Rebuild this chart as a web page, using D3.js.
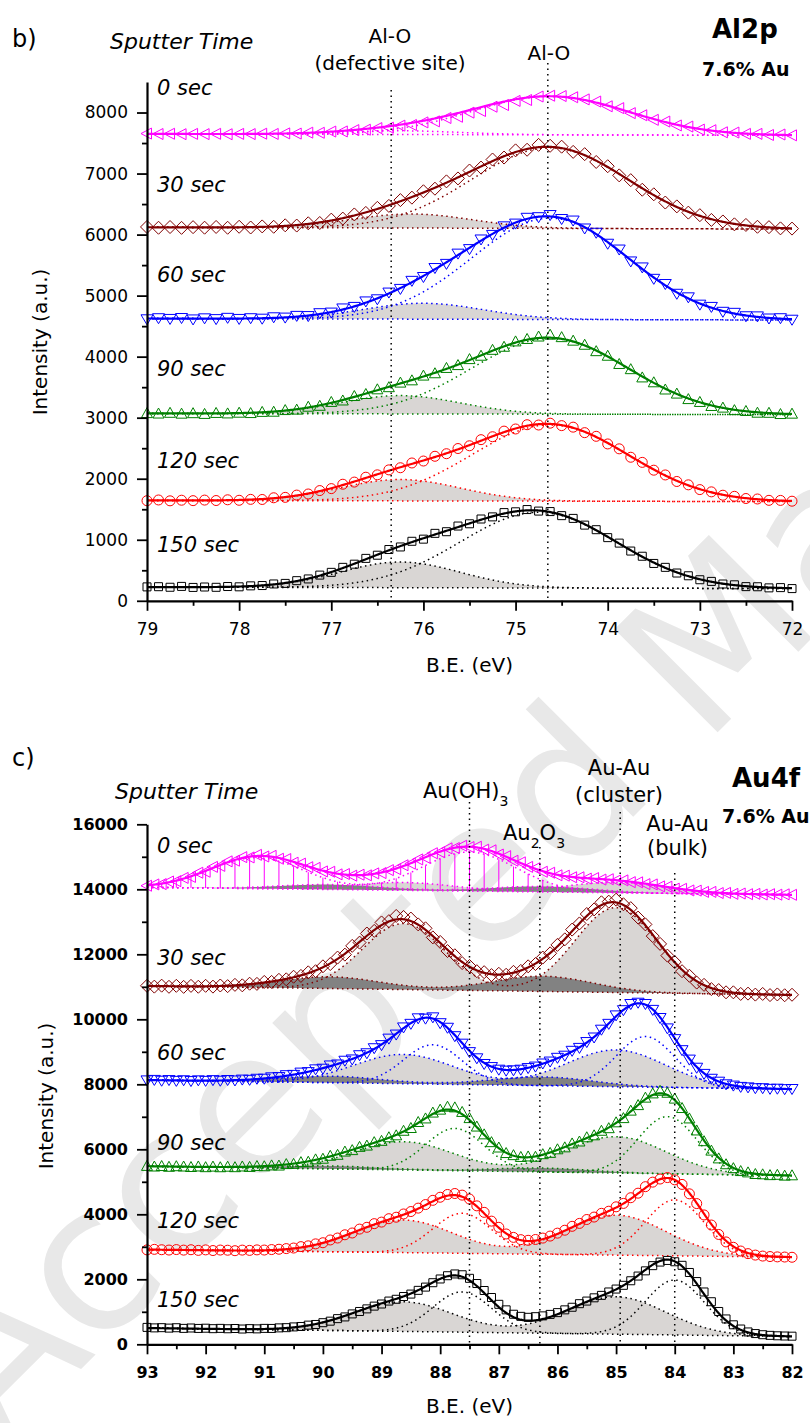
<!DOCTYPE html>
<html>
<head>
<meta charset="utf-8">
<script src="https://cdn.jsdelivr.net/npm/d3@7"></script>
<style>
body { margin: 0; background: #fff; }
svg text { font-family: "DejaVu Sans", sans-serif; }
</style>
</head>
<body>
<svg id="fig" width="810" height="1423"></svg>
<script>
// sputter series, shared by both panels
const sampleNames = ["0 sec", "30 sec", "60 sec", "90 sec", "120 sec", "150 sec"];
const sampleColors = ["#ff00ff", "#800000", "#0000ff", "#008000", "#ff0000", "#000000"];
const sampleMarkers = ["left", "diamond", "down", "up", "circle", "square"];

// ---- Al2p, measured counts from 79 eV down in 0.125 eV steps ----
const al2pStart = 79, al2pStep = 0.125;
const al2p0 = [7655, 7648, 7652, 7645, 7650, 7646, 7651, 7644, 7650, 7647, 7653, 7649, 7658, 7655, 7670, 7668, 7688, 7690, 7712, 7718, 7745, 7752, 7785, 7796, 7838, 7855, 7910, 7930, 7998, 8025, 8095, 8122, 8190, 8205, 8262, 8275, 8270, 8250, 8215, 8180, 8102, 8072, 7990, 7955, 7880, 7852, 7788, 7770, 7720, 7710, 7676, 7672, 7650, 7650, 7632, 7640, 7626];
const al2p30 = [6125, 6112, 6124, 6110, 6122, 6113, 6125, 6112, 6128, 6116, 6134, 6128, 6152, 6148, 6185, 6190, 6245, 6262, 6330, 6355, 6438, 6470, 6565, 6605, 6710, 6752, 6872, 6920, 7050, 7098, 7230, 7262, 7380, 7390, 7470, 7455, 7440, 7355, 7318, 7190, 7120, 6970, 6892, 6735, 6660, 6525, 6462, 6360, 6318, 6240, 6215, 6168, 6158, 6128, 6122, 6102, 6098];
const al2p60 = [4612, 4630, 4618, 4633, 4610, 4628, 4615, 4636, 4618, 4630, 4622, 4645, 4640, 4668, 4665, 4712, 4722, 4790, 4815, 4905, 4940, 5050, 5110, 5242, 5305, 5452, 5520, 5688, 5762, 5920, 5995, 6135, 6180, 6275, 6285, 6320, 6255, 6230, 6100, 6030, 5850, 5755, 5560, 5462, 5275, 5190, 5030, 4972, 4852, 4815, 4735, 4718, 4662, 4660, 4625, 4630, 4605];
const al2p90 = [3075, 3068, 3080, 3066, 3074, 3062, 3078, 3070, 3082, 3076, 3095, 3098, 3125, 3132, 3180, 3195, 3258, 3282, 3355, 3388, 3465, 3500, 3575, 3612, 3690, 3728, 3815, 3862, 3960, 4015, 4112, 4162, 4250, 4290, 4330, 4360, 4320, 4262, 4195, 4090, 4015, 3880, 3795, 3660, 3580, 3462, 3395, 3305, 3258, 3192, 3165, 3124, 3110, 3082, 3080, 3060, 3066];
const al2p120 = [1640, 1652, 1638, 1648, 1641, 1650, 1643, 1655, 1647, 1662, 1660, 1688, 1695, 1732, 1750, 1806, 1838, 1910, 1945, 2025, 2064, 2145, 2180, 2258, 2290, 2368, 2410, 2495, 2540, 2640, 2688, 2780, 2815, 2885, 2880, 2910, 2870, 2845, 2755, 2695, 2570, 2490, 2352, 2268, 2140, 2062, 1955, 1900, 1822, 1785, 1730, 1712, 1676, 1668, 1646, 1645, 1632];
const al2p150 = [228, 231, 222, 236, 219, 226, 221, 234, 229, 245, 250, 276, 285, 330, 358, 421, 466, 548, 600, 695, 747, 840, 882, 975, 1010, 1105, 1132, 1225, 1262, 1340, 1375, 1445, 1458, 1495, 1470, 1462, 1395, 1350, 1240, 1165, 1035, 945, 815, 730, 612, 548, 455, 410, 345, 318, 275, 262, 232, 230, 212, 216, 200];
// fit: baseline at 79 / 72 eV, peaks [centre eV, height, sigma]
const al2pBase = [[7650, 7625], [6120, 6090], [4625, 4600], [3070, 3050], [1645, 1625], [225, 200]];
const al2pMain = [[74.625, 630, 0.85], [74.625, 1320, 0.85], [74.625, 1660, 0.85], [74.625, 1240, 0.85], [74.625, 1250, 0.85], [74.75, 1240, 0.85]];
const al2pDefect = [[76.25, 60, 0.65], [76.125, 230, 0.65], [76.0, 260, 0.65], [76.25, 300, 0.65], [76.25, 350, 0.65], [76.25, 420, 0.65]];

// ---- Au4f, measured counts from 93 eV down in 0.125 eV steps ----
const au4fStart = 93, au4fStep = 0.125;
const au4f0 = [14110, 14150, 14160, 14240, 14250, 14350, 14380, 14510, 14540, 14690, 14720, 14860, 14880, 14990, 14980, 15060, 15010, 15030, 14940, 14930, 14820, 14790, 14680, 14660, 14550, 14540, 14460, 14470, 14420, 14450, 14430, 14490, 14500, 14590, 14620, 14740, 14790, 14920, 14970, 15110, 15140, 15260, 15270, 15340, 15300, 15310, 15220, 15200, 15070, 15020, 14880, 14830, 14690, 14650, 14540, 14510, 14430, 14420, 14370, 14370, 14330, 14345, 14300, 14310, 14270, 14275, 14220, 14215, 14160, 14150, 14090, 14080, 14020, 14015, 13965, 13960, 13920, 13920, 13885, 13890, 13860, 13870, 13850, 13860, 13840, 13850, 13835, 13845, 13830];
const au4f30 = [11030, 11005, 11035, 11000, 11030, 10998, 11028, 11002, 11030, 11005, 11040, 11020, 11060, 11045, 11095, 11090, 11150, 11150, 11215, 11230, 11310, 11335, 11445, 11480, 11630, 11700, 11900, 11990, 12260, 12360, 12640, 12720, 12980, 13020, 13180, 13150, 13100, 12920, 12800, 12520, 12380, 12100, 11970, 11730, 11640, 11480, 11450, 11360, 11400, 11370, 11460, 11490, 11630, 11700, 11900, 12030, 12290, 12460, 12760, 12950, 13240, 13380, 13600, 13620, 13680, 13540, 13420, 13130, 12920, 12560, 12320, 11960, 11760, 11480, 11340, 11130, 11060, 10930, 10900, 10830, 10830, 10780, 10790, 10760, 10780, 10745, 10765, 10740, 10755];
const au4f60 = [8120, 8135, 8110, 8130, 8105, 8125, 8100, 8122, 8105, 8128, 8110, 8132, 8118, 8145, 8138, 8170, 8172, 8215, 8222, 8280, 8290, 8360, 8375, 8460, 8480, 8580, 8610, 8725, 8765, 8895, 8955, 9110, 9205, 9405, 9530, 9750, 9860, 10030, 10020, 10060, 9880, 9740, 9480, 9250, 8990, 8800, 8625, 8530, 8450, 8420, 8430, 8450, 8500, 8545, 8640, 8700, 8815, 8880, 9030, 9120, 9300, 9440, 9680, 9860, 10120, 10280, 10470, 10510, 10470, 10290, 10040, 9720, 9390, 9050, 8760, 8510, 8320, 8170, 8080, 8000, 7960, 7920, 7905, 7880, 7880, 7860, 7865, 7850, 7855];
const au4f90 = [5490, 5470, 5485, 5462, 5480, 5470, 5455, 5472, 5450, 5468, 5448, 5465, 5450, 5472, 5458, 5485, 5478, 5505, 5500, 5545, 5552, 5605, 5618, 5690, 5710, 5800, 5830, 5930, 5975, 6075, 6115, 6220, 6260, 6370, 6430, 6570, 6655, 6840, 6950, 7130, 7220, 7310, 7290, 7150, 6960, 6700, 6460, 6220, 6055, 5885, 5820, 5765, 5780, 5770, 5850, 5890, 6000, 6060, 6180, 6240, 6370, 6430, 6570, 6650, 6830, 6960, 7190, 7360, 7590, 7720, 7800, 7740, 7560, 7270, 6950, 6580, 6250, 5960, 5720, 5540, 5420, 5330, 5290, 5240, 5230, 5205, 5215, 5190, 5200];
const au4f120 = [2905, 2922, 2910, 2900, 2915, 2898, 2910, 2890, 2905, 2885, 2900, 2895, 2880, 2898, 2890, 2905, 2900, 2915, 2925, 2945, 2962, 3005, 3030, 3090, 3125, 3210, 3270, 3370, 3425, 3545, 3600, 3712, 3760, 3865, 3910, 4010, 4085, 4190, 4300, 4430, 4525, 4610, 4640, 4590, 4470, 4260, 4060, 3790, 3600, 3395, 3290, 3220, 3200, 3225, 3268, 3330, 3420, 3510, 3630, 3720, 3840, 3915, 4030, 4095, 4230, 4335, 4510, 4650, 4850, 4990, 5085, 5130, 5060, 4920, 4630, 4330, 3980, 3670, 3380, 3150, 2985, 2870, 2790, 2745, 2715, 2700, 2690, 2685, 2678];
const au4f150 = [520, 505, 512, 498, 510, 490, 502, 488, 495, 481, 490, 478, 486, 470, 482, 475, 490, 488, 505, 512, 535, 548, 590, 610, 665, 712, 790, 842, 935, 1010, 1090, 1175, 1240, 1330, 1385, 1470, 1545, 1660, 1760, 1895, 2010, 2110, 2165, 2140, 2030, 1870, 1655, 1440, 1230, 1060, 925, 860, 830, 850, 875, 920, 975, 1060, 1140, 1250, 1330, 1430, 1505, 1610, 1700, 1815, 1955, 2100, 2260, 2420, 2530, 2580, 2540, 2430, 2210, 1930, 1610, 1310, 1010, 780, 600, 470, 380, 330, 295, 275, 262, 255, 250];
// fit: baseline at 93 / 82 eV, doublets [4f7/2 eV, height, 4f5/2 eV, height, sigma]
const au4fBase = [[14060, 13830], [11025, 10750], [8130, 7850], [5480, 5190], [2915, 2680], [500, 240]];
const au4fBulk = [[84.0, 0, 87.625, 0, 0.5], [84.0, 0, 87.625, 0, 0.5], [84.5, 1555, 88.125, 1210, 0.5], [84.125, 1760, 87.75, 1300, 0.5], [84.0, 1720, 87.625, 1230, 0.5], [84.0, 1690, 87.625, 1240, 0.5]];
const au4fCluster = [[85.0, 320, 88.625, 240, 0.85], [85.0, 2610, 88.625, 2030, 0.7], [85.0, 1130, 88.625, 900, 0.85], [85.0, 1120, 88.625, 870, 0.85], [85.0, 1230, 88.625, 1000, 0.85], [85.0, 1150, 88.625, 910, 0.85]];
const au4fOxide = [[86.25, 170, 89.875, 150, 0.85], [86.25, 470, 89.875, 360, 0.85], [86.25, 270, 89.875, 200, 0.85], [86.25, 120, 89.875, 90, 0.85], [86.25, 0, 89.875, 0, 0.85], [86.25, 0, 89.875, 0, 0.85]];
const au4fHydroxide = [[87.5, 1200, 91.125, 950, 0.8], [87.5, 0, 91.125, 0, 0.8], [87.5, 0, 91.125, 0, 0.8], [87.5, 0, 91.125, 0, 0.8], [87.5, 0, 91.125, 0, 0.8], [87.5, 0, 91.125, 0, 0.8]];

const svg = d3.select("#fig");

// faint journal watermark, behind the plots
svg.append("text")
    .attr("transform", "translate(0,1450) rotate(-45)")
    .attr("font-family", "Liberation Sans, sans-serif")
    .attr("font-size", 200)
    .attr("fill", "#e8e8e8")
    .text("Accepted Manuscript");

const markerShapes = {
    left: "M-6,0L4.5,-5.5L4.5,5.5Z",
    diamond: "M0,-6.5L6.5,0L0,6.5L-6.5,0Z",
    down: "M0,5.5L-6,-4.5L6,-4.5Z",
    up: "M0,-5.5L-5.5,4.5L5.5,4.5Z",
    circle: "M5,0A5,5 0 1,1 -5,0A5,5 0 1,1 5,0Z",
    square: "M-4,-4H4V4H-4Z"
};

function gauss(e, c, h, s) {
    return h * Math.exp(-(e - c) * (e - c) / (2 * s * s));
}
function doublet(p) {
    return e => gauss(e, p[0], p[1], p[4]) + gauss(e, p[2], p[3], p[4]);
}

function drawPanel(p) {
    const x = d3.scaleLinear().domain(p.xDomain).range([147, 792]);
    const y = d3.scaleLinear().domain(p.yDomain).range(p.yRange);
    const g = svg.append("g");
    const gLight = g.append("g"), gDark = g.append("g"), gHatch = g.append("g");
    const gDots = g.append("g"), gMarks = g.append("g"), gFit = g.append("g");
    const span = p.xDomain[0] - p.xDomain[1];
    const fine = d3.range(0, 701).map(j => p.xDomain[0] - span * j / 700);

    p.series.forEach(s => {
        const base = e => s.base[0] + (s.base[1] - s.base[0]) * (p.xDomain[0] - e) / span;
        const total = e => base(e) + d3.sum(s.comps, c => c.fn(e));
        const curve = f => d3.line().x(e => x(e)).y(e => y(f(e)))(fine);

        s.comps.forEach(c => {
            if (c.fill === "light" || c.fill === "dark") {
                (c.fill === "light" ? gLight : gDark).append("path")
                    .attr("d", d3.area().x(e => x(e)).y0(e => y(base(e))).y1(e => y(base(e) + c.fn(e)))(fine))
                    .attr("fill", c.fill === "light" ? "#d9d6d4" : "#828282");
            }
            if (c.fill === "hatch") {
                s.data.forEach((v, i) => {
                    const e = p.start - i * p.step;
                    if (i % 2 === 0 && c.fn(e) > 40) {
                        gHatch.append("line")
                            .attr("x1", x(e)).attr("x2", x(e))
                            .attr("y1", y(base(e))).attr("y2", y(base(e) + c.fn(e)))
                            .attr("stroke", s.color).attr("stroke-width", 1);
                    }
                });
            }
            gDots.append("path")
                .attr("d", curve(e => base(e) + c.fn(e)))
                .attr("fill", "none").attr("stroke", s.color)
                .attr("stroke-width", 1.5).attr("stroke-dasharray", "1.5,3.5");
        });
        gDots.append("path")
            .attr("d", curve(base))
            .attr("fill", "none").attr("stroke", s.color)
            .attr("stroke-width", 1.5).attr("stroke-dasharray", "1.5,3.5");

        gMarks.append("g").selectAll("path")
            .data(s.data)
            .enter().append("path")
            .attr("d", markerShapes[s.marker])
            .attr("transform", (v, i) => "translate(" + x(p.start - i * p.step) + "," + y(v) + ")")
            .attr("fill", "none")
            .attr("stroke", s.color)
            .attr("stroke-width", 1);

        gFit.append("path")
            .attr("d", curve(total))
            .attr("fill", "none").attr("stroke", s.color).attr("stroke-width", 2.2);
    });

    // reference positions
    p.refs.forEach(r => {
        g.append("line")
            .attr("x1", x(r[0])).attr("x2", x(r[0]))
            .attr("y1", r[1]).attr("y2", p.yRange[0])
            .attr("stroke", "#000").attr("stroke-width", 1.5).attr("stroke-dasharray", "1.5,4");
    });

    // axes
    const weight = p.bold ? "bold" : "normal";
    const yAx = g.append("g").attr("transform", "translate(147,0)")
        .call(d3.axisLeft(y).tickValues(p.yTicks).tickSize(10).tickSizeOuter(0).tickPadding(9)
            .tickFormat(d3.format("d")));
    g.append("g").attr("transform", "translate(147,0)")
        .call(d3.axisLeft(y).tickValues(p.yMinor).tickSize(5).tickFormat(""))
        .select(".domain").remove();
    const xAx = g.append("g").attr("transform", "translate(0," + p.yRange[0] + ")")
        .call(d3.axisBottom(x).tickValues(p.xTicks).tickSize(10).tickSizeOuter(0).tickPadding(12)
            .tickFormat(d3.format("d")));
    g.append("g").attr("transform", "translate(0," + p.yRange[0] + ")")
        .call(d3.axisBottom(x).tickValues(p.xMinor).tickSize(5).tickFormat(""))
        .select(".domain").remove();
    g.selectAll(".domain").attr("stroke-width", 2.2);
    g.selectAll(".tick line").attr("stroke-width", 1.8);
    [yAx, xAx].forEach(a => a.selectAll("text")
        .attr("font-family", "DejaVu Sans, sans-serif")
        .attr("font-size", p.tickFont)
        .attr("font-weight", weight)
        .attr("fill", "#000"));

    // axis titles
    text(469.5, p.xTitleY, "B.E. (eV)", {size: 20, anchor: "middle"});
    svg.append("text")
        .attr("transform", "translate(" + p.yTitleX + "," + p.yTitleY + ") rotate(-90)")
        .attr("text-anchor", "middle").attr("font-size", 20)
        .text("Intensity (a.u.)");

    // sample names
    sampleNames.forEach((n, k) => text(157, p.nameY[k], n, {size: 21, italic: true}));
}

function text(x, y, str, o) {
    o = o || {};
    return svg.append("text")
        .attr("x", x).attr("y", y)
        .attr("font-size", o.size || 20)
        .attr("font-weight", o.bold ? "bold" : "normal")
        .attr("font-style", o.italic ? "italic" : "normal")
        .attr("font-family", o.family || "DejaVu Sans, sans-serif")
        .attr("text-anchor", o.anchor || "start")
        .text(str);
}

// ---- panel b: Al2p ----
drawPanel({
    xDomain: [79, 72], yDomain: [0, 8500], yRange: [600.8, 82],
    start: al2pStart, step: al2pStep,
    yTicks: d3.range(0, 8001, 1000), yMinor: d3.range(500, 8000, 1000),
    xTicks: [79, 78, 77, 76, 75, 74, 73, 72], xMinor: [78.5, 77.5, 76.5, 75.5, 74.5, 73.5, 72.5],
    bold: false, tickFont: 17,
    xTitleY: 672, yTitleX: 47, yTitleY: 342,
    nameY: [95, 192, 282, 376, 468, 552],
    refs: [[76.35, 90], [74.65, 63]],
    series: sampleNames.map((n, k) => ({
        data: [al2p0, al2p30, al2p60, al2p90, al2p120, al2p150][k],
        color: sampleColors[k], marker: sampleMarkers[k], base: al2pBase[k],
        comps: [
            {fn: e => gauss(e, al2pDefect[k][0], al2pDefect[k][1], al2pDefect[k][2]), fill: k === 0 ? null : "light"},
            {fn: e => gauss(e, al2pMain[k][0], al2pMain[k][1], al2pMain[k][2]), fill: null}
        ]
    }))
});

text(12, 47, "b)", {size: 24, family: "Liberation Serif, serif"});
text(110, 49, "Sputter Time", {size: 22, italic: true});
text(390, 43, "Al-O", {anchor: "middle"});
text(390, 70, "(defective site)", {anchor: "middle"});
text(549, 60, "Al-O", {anchor: "middle"});
text(712, 38, "Al2p", {size: 26, bold: true});
text(702, 76, "7.6% Au", {size: 19, bold: true});

// ---- panel c: Au4f ----
drawPanel({
    xDomain: [93, 82], yDomain: [0, 16000], yRange: [1344.3, 824.3],
    start: au4fStart, step: au4fStep,
    yTicks: d3.range(0, 16001, 2000), yMinor: d3.range(1000, 16000, 2000),
    xTicks: d3.range(93, 81.9, -1), xMinor: d3.range(92.5, 82, -1),
    bold: true, tickFont: 16,
    xTitleY: 1413, yTitleX: 53, yTitleY: 1096,
    nameY: [853, 965, 1060, 1150, 1228, 1307],
    refs: [[87.5, 802], [86.3, 847], [84.93, 812], [84.0, 873]],
    series: sampleNames.map((n, k) => ({
        data: [au4f0, au4f30, au4f60, au4f90, au4f120, au4f150][k],
        color: sampleColors[k], marker: sampleMarkers[k], base: au4fBase[k],
        comps: [
            {fn: doublet(au4fCluster[k]), fill: "light", h: au4fCluster[k][1]},
            {fn: doublet(au4fOxide[k]), fill: "dark", h: au4fOxide[k][1]},
            {fn: doublet(au4fHydroxide[k]), fill: "hatch", h: au4fHydroxide[k][1]},
            {fn: doublet(au4fBulk[k]), fill: null, h: au4fBulk[k][1]}
        ].filter(c => c.h > 0)
    }))
});

text(12, 766, "c)", {size: 24, family: "Liberation Serif, serif"});
text(115, 799, "Sputter Time", {size: 22, italic: true});
const tOH = text(423, 798, "", {size: 21});
tOH.append("tspan").text("Au(OH)");
tOH.append("tspan").attr("dy", 8).attr("font-size", 14).text("3");
const tOx = text(503, 840, "", {size: 21});
tOx.append("tspan").text("Au");
tOx.append("tspan").attr("dy", 8).attr("font-size", 14).text("2");
tOx.append("tspan").attr("dy", -8).text("O");
tOx.append("tspan").attr("dy", 8).attr("font-size", 14).text("3");
text(619, 775, "Au-Au", {size: 21, anchor: "middle"});
text(619, 802, "(cluster)", {size: 21, anchor: "middle"});
text(677.5, 831, "Au-Au", {size: 21, anchor: "middle"});
text(677.5, 855, "(bulk)", {size: 21, anchor: "middle"});
text(732, 787, "Au4f", {size: 26, bold: true});
text(722, 823, "7.6% Au", {size: 19, bold: true});
</script>
</body>
</html>
